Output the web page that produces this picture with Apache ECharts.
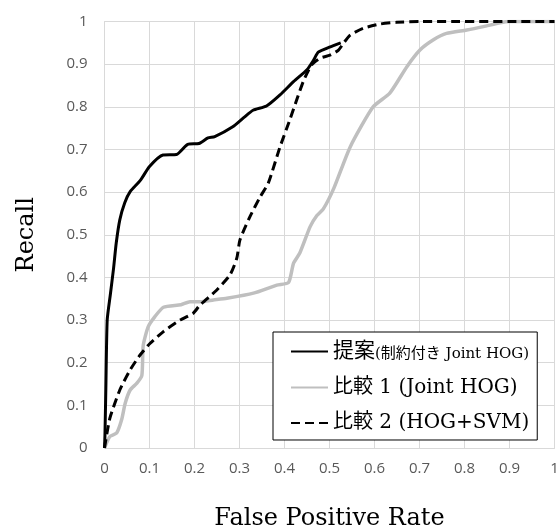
<!DOCTYPE html>
<html><head><meta charset="utf-8">
<script src="https://cdn.jsdelivr.net/npm/echarts@6/dist/echarts.min.js"></script>
<style>html,body{margin:0;padding:0;background:#fff}#c{width:558px;height:532px}</style>
</head><body><div id="c"></div>
<script>
// Axis ticks
const xTicks = [0,0.1,0.2,0.3,0.4,0.5,0.6,0.7,0.8,0.9,1];
const yTicks = [0,0.1,0.2,0.3,0.4,0.5,0.6,0.7,0.8,0.9,1];
// Series names
const seriesNames = ['提案(制約付き Joint HOG)', '比較 1 (Joint HOG)', '比較 2 (HOG+SVM)'];
// Proposed: [FPR, Recall]
const proposedFPR    = [0,0.001,0.003,0.006,0.013,0.02,0.026,0.034,0.045,0.057,0.08,0.1,0.13,0.16,0.185,0.21,0.23,0.245,0.285,0.31,0.33,0.36,0.39,0.42,0.45,0.465,0.475,0.5,0.525];
const proposedRecall = [0,0.03,0.14,0.3,0.36,0.42,0.48,0.535,0.575,0.601,0.628,0.66,0.687,0.688,0.712,0.714,0.727,0.73,0.753,0.775,0.792,0.802,0.828,0.859,0.887,0.91,0.928,0.94,0.95];
// Comparison 1 (Joint HOG)
const jointFPR    = [0,0.012,0.027,0.038,0.046,0.057,0.072,0.083,0.086,0.097,0.112,0.131,0.17,0.19,0.212,0.242,0.272,0.331,0.383,0.409,0.42,0.434,0.457,0.472,0.486,0.51,0.546,0.597,0.634,0.672,0.701,0.731,0.76,0.805,0.842,0.879,0.9,1];
const jointRecall = [0,0.027,0.035,0.066,0.105,0.136,0.152,0.17,0.24,0.284,0.308,0.33,0.336,0.343,0.343,0.347,0.351,0.363,0.382,0.388,0.433,0.457,0.519,0.545,0.56,0.61,0.706,0.80,0.832,0.894,0.933,0.957,0.972,0.98,0.988,0.997,1,1];
// Comparison 2 (HOG+SVM)
const svmFPR    = [0,0.001,0.012,0.034,0.057,0.079,0.101,0.131,0.168,0.197,0.212,0.249,0.279,0.294,0.301,0.323,0.346,0.364,0.39,0.412,0.427,0.442,0.46,0.479,0.501,0.52,0.531,0.546,0.575,0.612,0.649,0.7,1];
const svmRecall = [0,0.007,0.07,0.136,0.183,0.218,0.245,0.273,0.30,0.316,0.335,0.37,0.406,0.445,0.488,0.542,0.589,0.621,0.706,0.77,0.816,0.86,0.898,0.914,0.921,0.933,0.949,0.968,0.984,0.994,0.998,1,1];

const zip = (a,b) => a.map((v,i)=>[v,b[i]]);
const serifFont = "'DejaVu Serif', 'Noto Sans CJK JP', serif";
const tickFont = "'Open Sans', sans-serif";

const chart = echarts.init(document.getElementById('c'), null, {renderer:'canvas'});
chart.setOption({
  animation:false,
  backgroundColor:'#fff',
  grid:{left:104.5, right:3.5, top:21.5, bottom:84, containLabel:false, outerBoundsMode:'none'},
  xAxis:{
    type:'value', min:0, max:1, interval:0.1,
    name:'False Positive Rate', nameLocation:'middle', nameGap:59,
    nameTextStyle:{fontFamily:serifFont, fontSize:24, color:'#000'},
    axisLine:{show:true, lineStyle:{color:'#d9d9d9', width:1}},
    axisTick:{show:false},
    splitLine:{show:true, lineStyle:{color:'#d9d9d9', width:1}},
    axisLabel:{fontFamily:tickFont, fontSize:15, color:'#595959', margin:13,
      formatter:v=>{const t=xTicks.find(k=>Math.abs(k-v)<1e-9); return t===undefined?'':String(t);}}
  },
  yAxis:{
    type:'value', min:0, max:1, interval:0.1,
    name:'Recall', nameLocation:'middle', nameGap:66,
    nameTextStyle:{fontFamily:serifFont, fontSize:24, color:'#000'},
    axisLine:{show:true, lineStyle:{color:'#d9d9d9', width:1}},
    axisTick:{show:false},
    splitLine:{show:true, lineStyle:{color:'#d9d9d9', width:1}},
    axisLabel:{fontFamily:tickFont, fontSize:15, color:'#595959', margin:17,
      formatter:v=>{const t=yTicks.find(k=>Math.abs(k-v)<1e-9); return t===undefined?'':String(t);}}
  },
  legend:{
    orient:'vertical', left:273, top:332,
    backgroundColor:'#fff', borderColor:'#000', borderWidth:1,
    padding:[9,8,7,17],
    itemWidth:37, itemHeight:20, itemGap:15.5,
    data:seriesNames,
    itemStyle:{color:'rgba(0,0,0,0)', borderWidth:0, borderColor:'rgba(0,0,0,0)', opacity:0},
    textStyle:{fontFamily:serifFont, fontSize:20, color:'#000', lineHeight:20,
      rich:{
        a:{fontFamily:serifFont, fontSize:21, color:'#000', lineHeight:20},
        b:{fontFamily:serifFont, fontSize:15, color:'#000', lineHeight:20, verticalAlign:'bottom'}
      }},
    formatter:function(name){
      if(name===seriesNames[0]) return '{a|提案}{b|(制約付き Joint HOG)}';
      return name;
    }
  },
  series:[
    {name:seriesNames[1], type:'line', data:zip(jointFPR,jointRecall), symbol:'none', smooth:0.2,
      lineStyle:{color:'#bfbfbf', width:3.5}, itemStyle:{color:'#bfbfbf'}, z:2},
    {name:seriesNames[2], type:'line', data:zip(svmFPR,svmRecall), symbol:'none', smooth:0.2,
      lineStyle:{color:'#000', width:3, type:[9,5]}, itemStyle:{color:'#000'}, z:3},
    {name:seriesNames[0], type:'line', data:zip(proposedFPR,proposedRecall), symbol:'none', smooth:0.2,
      lineStyle:{color:'#000', width:3}, itemStyle:{color:'#000'}, z:4}
  ]
});
</script></body></html>
